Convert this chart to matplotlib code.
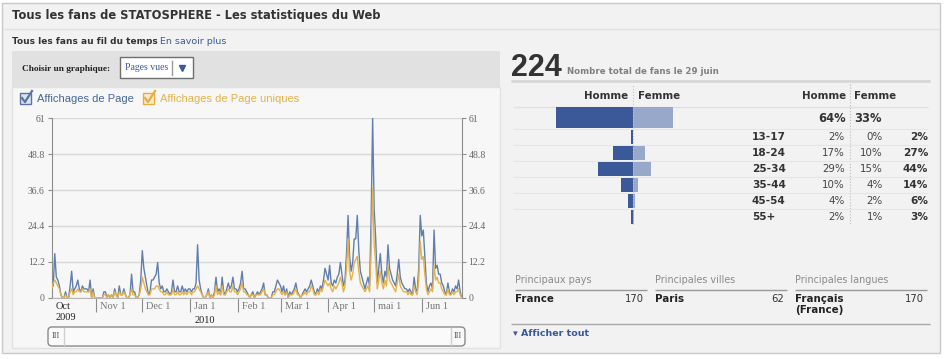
import matplotlib

matplotlib.use("Agg")
import matplotlib.pyplot as plt
import numpy as np
import pandas as pd
from matplotlib.patches import FancyBboxPatch, Rectangle

# ---- values ----
first_day = "2009-10-03"
page_views = [
    5, 4, 15, 7, 6, 4, 1, 0, 0, 2, 0, 0, 4, 9, 2, 3, 4, 6, 3, 2, 4, 3, 3, 3, 2, 6, 0, 3, 0,  # oct
    0, 0, 0, 0, 0, 2, 2, 0, 1, 0, 1, 0, 3, 1, 0, 4, 1, 1, 3, 1, 0, 0, 1, 8, 2, 2, 0, 0, 1, 6,  # nov
    16, 10, 7, 4, 1, 2, 6, 6, 7, 8, 12, 5, 3, 4, 2, 2, 3, 2, 1, 2, 6, 2, 2, 4, 2, 2, 4, 2, 3, 2, 3,  # dec
    3, 2, 3, 3, 5, 18, 6, 3, 1, 0, 0, 1, 3, 0, 1, 0, 2, 7, 2, 3, 1, 7, 2, 1, 3, 5, 3, 4, 7, 3, 3,  # jan
    2, 3, 5, 9, 3, 3, 2, 1, 0, 1, 2, 0, 1, 2, 1, 2, 3, 5, 1, 1, 0, 0, 0, 2, 2, 4, 6, 5,  # feb
    4, 2, 4, 1, 3, 0, 2, 1, 2, 3, 5, 2, 1, 0, 1, 2, 3, 2, 3, 4, 6, 4, 2, 1, 3, 2, 4, 3, 6, 10, 8,  # mar
    6, 11, 5, 4, 6, 5, 7, 8, 12, 8, 4, 6, 15, 28, 14, 9, 12, 20, 20, 28, 16, 9, 7, 5, 3, 5, 7, 4, 26, 61,  # apr
    30, 20, 5, 10, 15, 8, 5, 9, 7, 18, 10, 8, 6, 5, 4, 8, 13, 7, 5, 4, 3, 3, 2, 3, 2, 1, 7, 3, 2, 10, 28,  # mai
    21, 23, 14, 5, 2, 4, 5, 3, 23, 10, 11, 8, 8, 5, 4, 2, 1, 5, 2, 1, 3, 2, 4, 3, 6, 2, 0,  # jun
]
unique_views = [
    3, 5, 6, 5, 4, 3, 1, 0, 0, 1, 0, 0, 2, 3, 1, 2, 2, 3, 2, 2, 3, 2, 2, 2, 2, 3, 0, 2, 0,
    0, 0, 0, 0, 0, 1, 1, 0, 1, 0, 1, 0, 2, 1, 0, 2, 1, 1, 2, 1, 0, 0, 1, 3, 1, 1, 0, 0, 1, 3,
    7, 5, 3, 2, 1, 1, 3, 3, 3, 4, 4, 3, 2, 2, 1, 1, 2, 1, 1, 1, 3, 1, 1, 2, 1, 1, 2, 1, 2, 1, 2,
    2, 1, 2, 2, 3, 4, 3, 2, 1, 0, 0, 1, 2, 0, 1, 0, 1, 4, 1, 2, 1, 4, 1, 1, 2, 3, 2, 2, 4, 2, 2,
    1, 2, 3, 5, 2, 2, 1, 1, 0, 1, 1, 0, 1, 1, 1, 1, 2, 3, 1, 1, 0, 0, 0, 1, 1, 2, 3, 3,
    2, 1, 2, 1, 2, 0, 1, 1, 1, 2, 3, 1, 1, 0, 1, 1, 2, 1, 2, 2, 4, 3, 1, 1, 2, 1, 3, 2, 4, 6, 5,
    4, 5, 3, 2, 4, 3, 4, 5, 7, 5, 2, 4, 10, 20, 9, 6, 8, 12, 13, 14, 9, 5, 4, 3, 2, 3, 4, 2, 15, 37,
    18, 12, 3, 6, 9, 5, 3, 6, 4, 11, 6, 5, 4, 3, 2, 5, 8, 4, 3, 2, 2, 2, 1, 2, 1, 1, 4, 2, 1, 6, 19,
    13, 14, 8, 3, 1, 2, 3, 2, 11, 6, 7, 5, 5, 3, 2, 1, 1, 3, 1, 1, 2, 1, 2, 2, 3, 1, 0,
]
y_ticks = [0, 12.2, 24.4, 36.6, 48.8, 61]
month_starts = ["2009-11-01", "2009-12-01", "2010-01-01", "2010-02-01",
                "2010-03-01", "2010-04-01", "2010-05-01", "2010-06-01"]
month_labels = ["Nov 1", "Dec 1", "Jan 1", "Feb 1", "Mar 1", "Apr 1", "mai 1", "Jun 1"]

fans_total = 224
male_total, female_total = 64, 33
age_groups = ["13-17", "18-24", "25-34", "35-44", "45-54", "55+"]
male_pct = [2, 17, 29, 10, 4, 2]
female_pct = [0, 10, 15, 4, 2, 1]
age_pct = [2, 27, 44, 14, 6, 3]

top_countries = [("France", 170)]
top_cities = [("Paris", 62)]
top_languages = [("Français\n(France)", 170)]

BLUE = "#627ead"
ORANGE = "#e5b248"
MALE = "#3b5998"
FEMALE = "#98a8ca"
LINK = "#3b5998"
SANS = "DejaVu Sans"
SERIF = "Liberation Serif"
W, H = 945, 359

fig = plt.figure(figsize=(W / 100, H / 100), dpi=100, facecolor="white")

# page chrome, drawn in pixel coordinates
ui = fig.add_axes([0, 0, 1, 1])
ui.set_xlim(0, W)
ui.set_ylim(H, 0)
ui.axis("off")


def txt(x, y, s, size=7.5, color="#333333", weight="normal", ha="left", va="center", family=SANS):
    ui.text(x, y, s, fontsize=size, color=color, fontweight=weight, ha=ha, va=va, family=family)


def hline(y, x0, x1, color="#dddddd", lw=1.0, ls="-"):
    ui.plot([x0, x1], [y, y], color=color, lw=lw, ls=ls, solid_capstyle="butt")


ui.add_patch(Rectangle((2, 3), 938, 350, fc="#f2f2f2", ec="#c9c9c9", lw=1))
hline(29, 3, 939, color="#e1e1e1")
txt(12, 16, "Tous les fans de STATOSPHERE - Les statistiques du Web", size=8.3, weight="bold",
    color="#333333")
txt(12, 41, "Tous les fans au fil du temps", size=6.5, weight="bold")
txt(160, 41, "En savoir plus", size=6.8, color=LINK)

# left panel: chart selector and chart area
ui.add_patch(Rectangle((12, 51), 488, 36, fc="#e1e1e1", ec="none"))
ui.add_patch(Rectangle((12, 87), 488, 261, fc="#f7f7f7", ec="#e2e2e2", lw=1))
txt(22, 69, "Choisir un graphique:", size=6.7, weight="bold", family=SERIF, color="#222222")
ui.add_patch(Rectangle((120, 57), 73, 21, fc="white", ec="#6f6f6f", lw=1))
txt(125, 68, "Pages vues", size=7, family=SERIF, color=LINK)
ui.plot([172, 172], [61, 75], color="#9a9a9a", lw=1)
ui.plot([182], [68], marker="v", ms=5, color=LINK)

# legend check boxes
for x0, edge, face, label, color in ((20, "#5a73a0", "#dde4ef", "Affichages de Page", "#46659a"),
                                      (143, "#e6ad3f", "#fbedcd", "Affichages de Page uniques", ORANGE)):
    ui.add_patch(Rectangle((x0, 93), 11, 11, fc=face, ec=edge, lw=1))
    ui.plot([x0 + 2, x0 + 5, x0 + 12], [98, 102, 91], color=edge, lw=1.6)
    txt(x0 + 17, 99, label, size=8, color=color, family="Liberation Sans")

# scrollbar under the chart
ui.add_patch(FancyBboxPatch((48, 327), 417, 19, boxstyle="round,pad=0,rounding_size=4",
                            fc="#fafafa", ec="#8a8a8a", lw=1))
ui.plot([64, 64], [328, 345], color="#cfcfcf", lw=1)
ui.plot([451, 451], [328, 345], color="#cfcfcf", lw=1)
txt(56, 336.5, "III", size=6, family=SERIF, color="#555555", ha="center")
txt(458, 336.5, "III", size=6, family=SERIF, color="#555555", ha="center")

# ---- line chart ----
dates = pd.date_range(first_day, periods=len(page_views), freq="D")
ax = fig.add_axes([51.7 / W, (H - 297.7) / H, 410 / W, 179.4 / H])
ax.set_facecolor("none")
ax.plot(dates, page_views, color=BLUE, lw=1.0, zorder=3)
ax.plot(dates, unique_views, color=ORANGE, lw=1.0, zorder=4)
ax.set_xlim(dates[0], dates[-1])
ax.set_ylim(0, 61)
ax.set_yticks(y_ticks)
ax.set_yticklabels([f"{t:g}" for t in y_ticks])
ax.grid(axis="y", color="#d8d8d8", lw=1)
ax.set_axisbelow(True)
ax.spines["top"].set_visible(False)
for side in ("left", "right"):
    ax.spines[side].set_color("#8c8c8c")
ax.spines["bottom"].set_color("#b5b5b5")
ax.tick_params(axis="y", length=3, color="#8c8c8c", labelsize=7, labelcolor="#666666", pad=2)
ax.set_xticks(pd.to_datetime(month_starts))
ax.set_xticklabels([])
ax.tick_params(axis="x", length=10, color="#8c8c8c", direction="out")
for lab in ax.get_yticklabels():
    lab.set_family(SERIF)

ax2 = ax.twinx()
ax2.set_ylim(0, 61)
ax2.set_yticks(y_ticks)
ax2.set_yticklabels([f"{t:g}" for t in y_ticks])
ax2.tick_params(axis="y", length=3, color="#8c8c8c", labelsize=7, labelcolor="#666666", pad=2)
for lab in ax2.get_yticklabels():
    lab.set_family(SERIF)
for side in ("top", "bottom", "left", "right"):
    ax2.spines[side].set_visible(False)

for day, label in zip(pd.to_datetime(month_starts), month_labels):
    ax.annotate(label, xy=(day, 0), xycoords=("data", "axes fraction"), xytext=(3, -3),
                textcoords="offset points", ha="left", va="top", fontsize=7.5,
                family=SERIF, color="#777777")
ax.annotate("Oct\n2009", xy=(dates[0], 0), xycoords=("data", "axes fraction"), xytext=(3, -3),
            textcoords="offset points", ha="left", va="top", fontsize=7.5, family=SERIF,
            color="#222222", linespacing=1.25)
ax.annotate("2010", xy=(pd.Timestamp(month_starts[2]), 0), xycoords=("data", "axes fraction"),
            xytext=(3, -13), textcoords="offset points", ha="left", va="top", fontsize=7.5,
            family=SERIF, color="#222222")

# ---- right panel: totals and age/sex breakdown ----
ui.text(511, 76, str(fans_total), fontsize=22, fontweight="bold", color="#333333",
        family="Liberation Sans", ha="left", va="baseline")
txt(567, 71, "Nombre total de fans le 29 juin", size=6.2, weight="bold", color="#808080")
hline(81, 511, 930, color="#d6d6d6", lw=2)
txt(628, 96, "Homme", size=7.4, weight="bold", ha="right")
txt(638, 96, "Femme", size=7.4, weight="bold")
txt(846, 96, "Homme", size=7.4, weight="bold", ha="right")
txt(854, 96, "Femme", size=7.4, weight="bold")
hline(106.5, 513, 928, color="#e0e0e0")
ui.plot([850, 850], [84, 225], color="#bbbbbb", lw=0.8, ls=":")

row_y = 136.7 + 16 * np.arange(len(age_groups))
for y in np.concatenate([[128.5], row_y[:-1] + 8]):
    hline(y, 513, 928, color="#e6e6e6", lw=0.8)

txt(846, 119, f"{male_total}%", size=8.3, weight="bold", ha="right")
txt(854, 119, f"{female_total}%", size=8.3, weight="bold")
for y, grp, m, f, t in zip(row_y, age_groups, male_pct, female_pct, age_pct):
    txt(752, y, grp, size=7.6, weight="bold")
    txt(845, y, f"{m}%", size=7.4, color="#444444", ha="right")
    txt(883, y, f"{f}%", size=7.4, color="#444444", ha="right")
    txt(928, y, f"{t}%", size=7.6, weight="bold", ha="right")

pyr = fig.add_axes([553 / W, (H - 225) / H, 160 / W, 141 / H])
pyr.set_xlim(-80 / 1.2, 80 / 1.2)
pyr.set_ylim(225, 84)
pyr.axis("off")
pyr.barh(117.5, -male_total, height=21.6, color=MALE)
pyr.barh(117.5, female_total, height=21.6, color=FEMALE)
pyr.barh(row_y, [-m for m in male_pct], height=14, color=MALE)
pyr.barh(row_y, female_pct, height=14, color=FEMALE)
pyr.axvline(0, color="#c4c4c4", lw=0.8, ls=":")

# ---- top countries / cities / languages ----
for x0, title, rows in ((515, "Principaux pays", top_countries),
                        (655, "Principales villes", top_cities),
                        (795, "Principales langues", top_languages)):
    txt(x0, 280, title, size=6.9, color="#8a8a8a")
    hline(289.5, x0, x0 + 132, color="#9a9a9a")
    for name, count in rows:
        ui.text(x0, 294.5, name, fontsize=7.4, fontweight="bold", color="#222222", family=SANS,
                ha="left", va="top", linespacing=1.1)
        txt(x0 + 129, 299.5, str(count), size=7.2, color="#333333", ha="right")
hline(324, 511, 930, color="#a8a8a8")
txt(513, 334, "▾ Afficher tout", size=6.8, weight="bold", color=LINK)

fig.savefig("out.png", dpi=100, facecolor="white")
